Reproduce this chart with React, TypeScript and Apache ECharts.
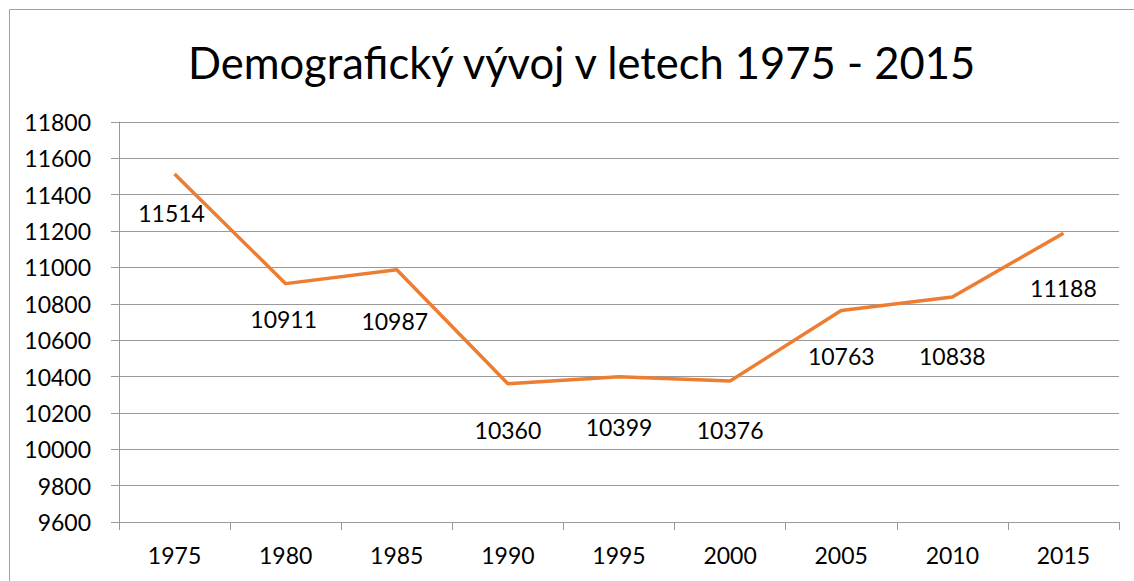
import React, { useEffect, useRef } from "react";
import * as echarts from "echarts";

const years = ["1975", "1980", "1985", "1990", "1995", "2000", "2005", "2010", "2015"];
const population = [11514, 10911, 10987, 10360, 10399, 10376, 10763, 10838, 11188];
// label offsets (dx, dy) from default "bottom" position, as hand-placed in the original
const labelDx = [-3, -2, -2, 0, 0, 0, 0, 0, 0];
const labelDy = [27, 24, 40, 35, 39, 38, 34, 48, 43];
const title = "Demografický vývoj v letech 1975 - 2015";

export default function App() {
  const ref = useRef<HTMLDivElement>(null);
  useEffect(() => {
    if (!ref.current) return;
    const chart = echarts.init(ref.current, null, { renderer: "svg" });
    const font = "Lato, 'Open Sans', sans-serif";
    chart.setOption({
      animation: false,
      backgroundColor: "#ffffff",
      textStyle: { fontFamily: font },
      title: {
        text: title,
        left: 183,
        top: 35,
        textStyle: { fontFamily: font, fontSize: 43.5, fontWeight: "normal", color: "#000" },
      },
      graphic: [
        {
          type: "rect",
          shape: { x: 9.5, y: 9.5, width: 1300, height: 800 },
          style: { fill: "none", stroke: "#a0a0a0", lineWidth: 1 },
          silent: true,
        },
      ],
      grid: { left: 119, right: 15, top: 122, bottom: 59, containLabel: false },
      xAxis: {
        type: "category",
        data: years,
        boundaryGap: true,
        axisLine: { show: true, lineStyle: { color: "#999999", width: 1 } },
        axisTick: { show: true, length: 8, lineStyle: { color: "#999999" } },
        axisLabel: { color: "#000", fontSize: 23, margin: 21, fontFamily: font },
      },
      yAxis: {
        type: "value",
        min: 9600,
        max: 11800,
        interval: 200,
        axisLine: { show: true, lineStyle: { color: "#999999", width: 1 } },
        axisTick: { show: true, length: 8, lineStyle: { color: "#999999" } },
        splitLine: { show: true, lineStyle: { color: "#999999", width: 1 } },
        axisLabel: {
          color: "#000",
          fontSize: 23,
          margin: 28,
          fontFamily: font,
          formatter: (v: number) => String(v),
        },
      },
      series: [
        {
          type: "line",
          data: population.map((v, i) => ({
            value: v,
            label: { offset: [labelDx[i], labelDy[i]] },
          })),
          symbol: "circle",
          symbolSize: 0,
          showSymbol: true,
          lineStyle: { color: "#ED7D31", width: 3.5 },
          itemStyle: { color: "#ED7D31" },
          label: {
            show: true,
            position: "bottom",
            distance: 0,
            color: "#000",
            fontSize: 23,
            fontFamily: font,
          },
        },
      ],
    });
    return () => chart.dispose();
  }, []);
  return (
    <div
      ref={ref}
      style={{ position: "absolute", left: 0, top: 0, width: 1134, height: 581 }}
    />
  );
}
